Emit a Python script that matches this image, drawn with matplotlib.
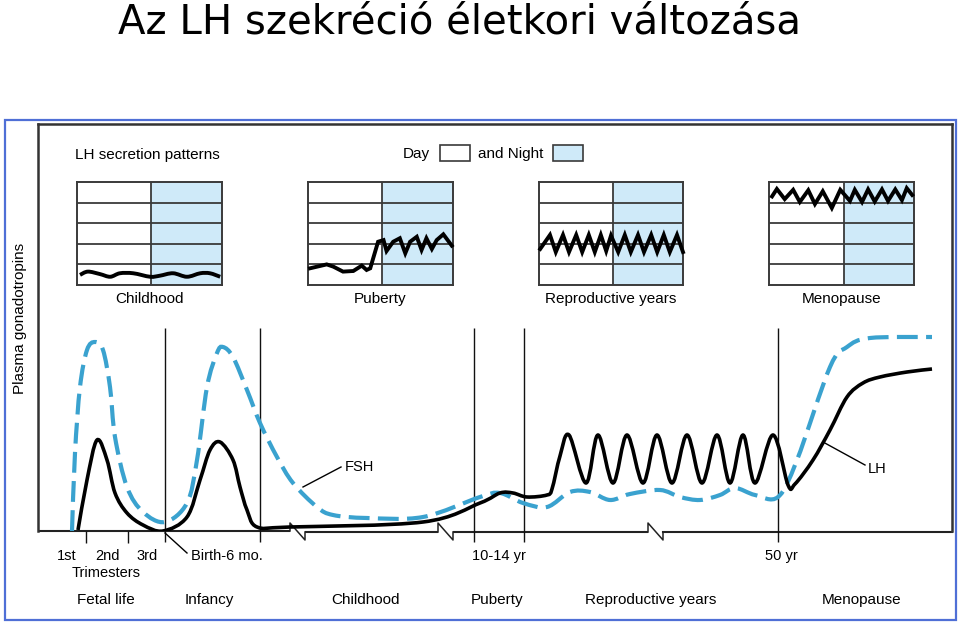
import numpy as np
import matplotlib
matplotlib.use("Agg")
import matplotlib.pyplot as plt
from matplotlib.path import Path
from matplotlib.patches import PathPatch, Rectangle

plt.rcParams['font.family'] = ['Liberation Sans', 'DejaVu Sans']

# ---------------- data ----------------
# main timeline: x = position along the life-span axis, y = hormone level
lh_x = [78, 87, 97, 107, 115, 127, 143, 163, 187, 200, 210, 220, 233, 240, 247, 257,
        290, 423, 480, 500, 513, 527, 547, 552, 560, 569,
        586, 598, 613, 627, 643, 657, 672, 687, 702, 717, 730, 743, 755, 773,
        788, 795, 813, 830, 847, 863, 880, 907, 932]
lh_y = [1, 51, 91, 71, 38, 18, 6, 0, 14, 51, 81, 89, 71, 44, 21, 4,
        4, 9, 28, 38, 38, 34, 36, 42, 75, 96,
        48, 96, 48, 96, 48, 96, 48, 96, 48, 96, 48, 96, 48, 96,
        46, 47, 71, 101, 134, 148, 154, 159, 162]

fsh_x = [72, 75, 80, 87, 95, 103, 110, 115, 127, 143, 165, 187, 197, 207, 217, 223,
         233, 247, 260, 277, 293, 317, 333, 367, 423, 480, 500, 523, 547,
         570, 590, 610, 630, 660, 680, 700, 720, 735, 755, 778,
         797, 830, 847, 870, 932]
fsh_y = [0, 78, 144, 181, 189, 181, 144, 94, 44, 19, 9, 28, 71, 144, 178, 184,
         174, 141, 108, 74, 48, 24, 16, 13, 14, 34, 38, 28, 24,
         39, 39, 31, 37, 41, 34, 31, 36, 43, 36, 34,
         71, 164, 184, 193, 194]

period_bounds = [165, 260, 474, 524, 778]
trimester_ticks = [86, 128]
axis_breaks = [290, 438, 648]

# small panels: x = hour of day (0-24), y = LH level (0-5 grid rows)
child_x = [0.5, 1.8, 3.8, 5.5, 7.1, 9.3, 12.1, 13.7, 15.9, 18.2, 20.4, 22.0, 23.7]
child_y = [0.49, 0.65, 0.53, 0.40, 0.57, 0.57, 0.40, 0.45, 0.57, 0.40, 0.57, 0.57, 0.40]

pub_x = [0.33, 3.1, 4.2, 5.8, 7.5, 8.9, 9.7, 10.3, 11.6, 12.5, 13.0, 14.1, 15.2, 16.1,
         16.9, 18.0, 18.8, 19.6, 20.5, 21.3, 22.4, 23.8]
pub_y = [0.81, 1.0, 0.89, 0.65, 0.68, 0.94, 0.73, 0.81, 2.10, 2.18, 1.65, 2.10, 2.27, 1.54,
         2.10, 2.34, 1.70, 2.27, 1.75, 2.18, 2.46, 1.91]

rep_x = [0.2, 1.83, 2.8, 4.0, 5.0, 6.2, 7.2, 8.3, 9.3, 10.3, 11.2, 12.0, 13.2, 14.3,
         15.3, 16.5, 17.5, 18.7, 19.7, 20.8, 21.8, 23.0, 24.0]
rep_y = [1.75, 2.43, 1.60, 2.43, 1.60, 2.43, 1.60, 2.43, 1.60, 2.43, 1.65, 2.40, 1.60, 2.43,
         1.60, 2.43, 1.60, 2.43, 1.60, 2.43, 1.60, 2.43, 1.60]

meno_x = [0.5, 1.3, 2.6, 4.0, 5.1, 6.5, 7.6, 8.9, 10.4, 11.8, 13.4, 14.2, 15.4, 16.4,
          17.5, 18.7, 19.7, 20.9, 22.0, 22.8, 23.7]
meno_y = [4.30, 4.66, 4.17, 4.62, 4.03, 4.60, 3.93, 4.55, 3.74, 4.62, 4.08, 4.62, 4.03, 4.64,
          4.05, 4.64, 4.08, 4.64, 4.12, 4.70, 4.37]

panel_names = ["Childhood", "Puberty", "Reproductive years", "Menopause"]
panel_series = [(child_x, child_y), (pub_x, pub_y), (rep_x, rep_y), (meno_x, meno_y)]
panel_split = [12.2, 12.3, 12.3, 12.4]

title = "Az LH szekréció életkori változása"
period_labels = ["Fetal life", "Infancy", "Childhood", "Puberty", "Reproductive years", "Menopause"]

# ---------------- layout helpers ----------------
W, H = 960, 622
fig = plt.figure(figsize=(W / 100, H / 100), dpi=100)
fig.patch.set_facecolor('white')


def rect(l, t, r, b):
    return [l / W, 1 - b / H, (r - l) / W, (b - t) / H]


NIGHT = '#cfeaf9'
FSH_C = '#3aa2cf'
GRID_C = '#3a3a3a'


def smooth_path(xs, ys):
    """Catmull-Rom curve through the points, drawn as cubic Bezier path."""
    pts = np.column_stack([xs, ys]).astype(float)
    n = len(pts)
    verts = [pts[0]]
    codes = [Path.MOVETO]
    for i in range(n - 1):
        p0 = pts[i - 1] if i > 0 else pts[i]
        p1 = pts[i]
        p2 = pts[i + 1]
        p3 = pts[i + 2] if i + 2 < n else pts[i + 1]
        c1 = p1 + (p2 - p0) / 6.0
        c2 = p2 - (p3 - p1) / 6.0
        verts += [c1, c2, p2]
        codes += [Path.CURVE4] * 3
    return Path(verts, codes)


# ---------------- overlay (text + borders) ----------------
ov = fig.add_axes([0, 0, 1, 1], zorder=5)
ov.set_xlim(0, W)
ov.set_ylim(H, 0)
ov.axis('off')
ov.patch.set_alpha(0)

ov.add_patch(Rectangle((5, 120), 951, 500, fill=False, ec='#4f6fd6', lw=1.6))

ov.text(460, 33, title, ha='center', va='baseline', fontsize=29,
        family=['DejaVu Sans'], color='black')

ov.text(20, 318, "Plasma gonadotropins", rotation=90, ha='center', va='center', fontsize=11)
ov.text(75, 155, "LH secretion patterns", ha='left', va='center', fontsize=11)
ov.text(403, 154, "Day", ha='left', va='center', fontsize=11)
ov.add_patch(Rectangle((440, 145), 30, 16, fc='white', ec=GRID_C, lw=1.2))
ov.text(478, 154, "and Night", ha='left', va='center', fontsize=11)
ov.add_patch(Rectangle((553, 145), 30, 16, fc=NIGHT, ec=GRID_C, lw=1.2))

panel_boxes = [(77, 222), (308, 453), (539, 683), (769, 914)]
for (l, r), name in zip(panel_boxes, panel_names):
    ov.text((l + r) / 2, 299, name, ha='center', va='center', fontsize=11)

small = [("1st", 67, 556), ("2nd", 108, 556), ("3rd", 147, 556), ("Trimesters", 106, 573),
         ("Birth-6 mo.", 227, 556), ("10-14 yr", 499, 556), ("50 yr", 781, 556),
         ("FSH", 359, 467), ("LH", 877, 469)]
for s, x, y in small:
    ov.text(x, y, s, ha='center', va='center', fontsize=10.5)

for s, x in zip(period_labels, [106, 209, 366, 497, 651, 862]):
    ov.text(x, 600, s, ha='center', va='center', fontsize=11)

# ---------------- small panels ----------------
for idx, ((l, r), (sx, sy), split) in enumerate(zip(panel_boxes, panel_series, panel_split)):
    pa = fig.add_axes(rect(l, 182, r, 285), zorder=3)
    pa.set_xlim(0, 24)
    pa.set_ylim(0, 5)
    pa.axvspan(split, 24, color=NIGHT, lw=0)
    for k in range(1, 5):
        pa.axhline(k, color=GRID_C, lw=1.3)
    pa.axvline(split, color=GRID_C, lw=1.3)
    if idx == 0:
        pa.add_patch(PathPatch(smooth_path(sx, sy), fill=False, ec='black', lw=2.8,
                               clip_on=False, zorder=4))
    else:
        pa.plot(sx, sy, color='black', lw=2.8, solid_joinstyle='miter', clip_on=False,
                zorder=4)
    pa.set_xticks([])
    pa.set_yticks([])
    for sp in pa.spines.values():
        sp.set_color(GRID_C)
        sp.set_linewidth(1.4)

# ---------------- main timeline ----------------
ax = fig.add_axes(rect(38, 124, 952, 531), zorder=2)
ax.set_xlim(38, 952)
ax.set_ylim(0, 407)
ax.set_xticks([])
ax.set_yticks([])
ax.patch.set_alpha(0)
ax.spines['bottom'].set_visible(False)
for s in ['left', 'top', 'right']:
    ax.spines[s].set_color('#333333')
    ax.spines[s].set_linewidth(1.8)

# baseline with break marks
seg_start = 38
levels = [0, -1, -1, -1]
for i, xb in enumerate(axis_breaks):
    ax.plot([seg_start, xb], [levels[i], levels[i]], color='#222222', lw=1.5,
            clip_on=False, solid_capstyle='butt')
    ax.plot([xb, xb, xb + 15, xb + 15], [levels[i], 8, -9, -1], color='#222222', lw=1.1,
            clip_on=False)
    seg_start = xb + 15
ax.plot([seg_start, 952], [-1, -1], color='#222222', lw=1.5, clip_on=False)

ax.vlines(period_bounds, -11, 203, color='#111111', lw=1.0, clip_on=False)
ax.vlines(trimester_ticks, -12, 0, color='#111111', lw=1.0, clip_on=False)

# leader lines
ax.plot([303, 341], [44, 64], color='black', lw=1.0)
ax.plot([823, 865], [89, 66], color='black', lw=1.0)
ax.plot([165, 187], [-2, -22], color='black', lw=1.0, clip_on=False)

fsh_patch = PathPatch(smooth_path(fsh_x, fsh_y), fill=False, ec=FSH_C, lw=3.0,
                      linestyle=(0, (5, 2)), capstyle='butt', zorder=3)
ax.add_patch(fsh_patch)
lh_patch = PathPatch(smooth_path(lh_x, lh_y), fill=False, ec='black', lw=2.6,
                     joinstyle='round', zorder=4)
ax.add_patch(lh_patch)

fig.savefig("out.png", dpi=100, facecolor='white')
